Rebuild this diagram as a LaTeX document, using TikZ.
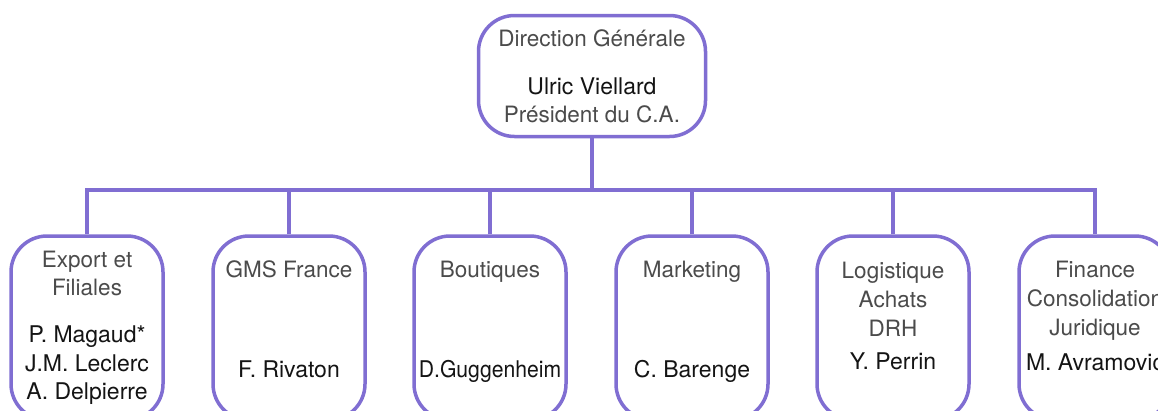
\documentclass[tikz,border=0pt]{standalone}
\usepackage{fontspec}
\setmainfont{TeX Gyre Heros}
\definecolor{orgline}{RGB}{128,110,210}
\definecolor{lighttxt}{RGB}{75,75,75}
\definecolor{darktxt}{RGB}{20,20,20}
\begin{document}
\begin{tikzpicture}[x=1pt,y=-1pt,
  orgbox/.style={draw=orgline,line width=3.5pt,rounded corners=36pt,fill=white,inner sep=0pt},
  topbox/.style={orgbox,minimum width=227pt,minimum height=121pt},
  childbox/.style={orgbox,minimum width=152pt,minimum height=184pt},
  conn/.style={draw=orgline,line width=3.5pt},
  ttl/.style={font=\fontsize{22.5}{26}\selectfont,text=lighttxt,inner sep=0pt,anchor=base},
  nm/.style={font=\fontsize{23}{26}\selectfont,text=darktxt,inner sep=0pt,anchor=base}]
\useasboundingbox (0,0) rectangle (1158,410);
\node[topbox] (top) at (592,76) {};
\foreach \i/\x in {1/87,2/289,3/490,4/692,5/893,6/1095}{
  \node[childbox] (c\i) at (\x,328) {};
}
\coordinate (bus) at (592,190);
\draw[conn] (top.south) -- (bus);
\draw[conn] (c1.north) |- (bus) -| (c6.north);
\foreach \i in {2,3,4,5}{
  \draw[conn] (c\i.north) -- (c\i.north |- bus);
}
% top box text
\node[ttl] (t1) at (592,46) {Direction Générale};
\node[nm]  (t2) at (592,94) {Ulric Viellard};
\node[ttl] (t3) at (592,122) {Président du C.A.};
% child 1
\node[ttl] (a1) at (87,267) {Export et};
\node[ttl] (a2) at (87,295) {Filiales};
\node[nm]  (a3) at (87,342) {P. Magaud*};
\node[nm]  (a4) at (87,371) {J.M. Leclerc};
\node[nm]  (a5) at (87,399) {A. Delpierre};
% child 2
\node[ttl] (b1) at (289,277) {GMS France};
\node[nm]  (b2) at (289,377) {F. Rivaton};
% child 3
\node[ttl] (d1) at (490,277) {Boutiques};
\node[nm]  (d2) at (490,377) {\scalebox{0.92}[1]{D.Guggenheim}};
% child 4
\node[ttl] (e1) at (692,277) {Marketing};
\node[nm]  (e2) at (692,377) {C. Barenge};
% child 5
\node[ttl] (f1) at (893,278) {Logistique};
\node[ttl] (f2) at (893,307) {Achats};
\node[ttl] (f3) at (893,336) {DRH};
\node[nm]  (f4) at (893,369) {Y. Perrin};
% child 6
\node[ttl] (g1) at (1095,277) {Finance};
\node[ttl] (g2) at (1095,306) {Consolidation};
\node[ttl] (g3) at (1095,335) {Juridique};
\node[nm]  (g4) at (1095,370) {M. Avramovic};
\end{tikzpicture}
\end{document}
